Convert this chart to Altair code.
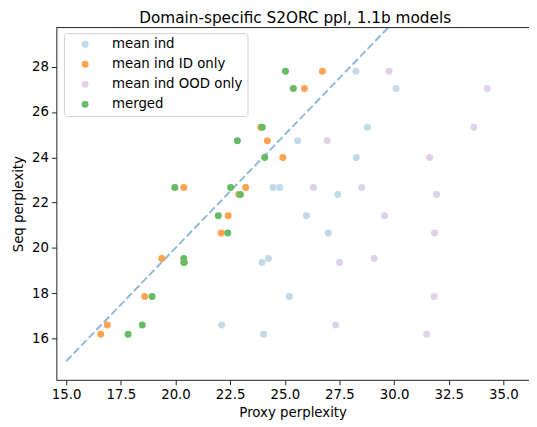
import altair as alt
import pandas as pd

series_names = ["mean ind", "mean ind ID only", "mean ind OOD only", "merged"]
series_colors = ["#c2d9ea", "#ffa352", "#dfd1eb", "#66bb66"]

seq_ppl = [27.80, 27.04, 25.33, 24.73, 23.99, 22.67, 22.67, 22.36, 21.42, 20.66, 19.54, 19.36, 17.86, 16.60, 16.19]
mean_ind = [28.25, 30.09, 28.78, 25.59, 28.27, 24.46, 24.77, 27.42, 25.99, 26.99, 24.25, 23.96, 25.21, 22.11, 24.03]
id_only = [26.72, 25.90, 23.90, 24.20, 24.91, 20.38, 23.21, 22.89, 22.41, 22.09, 19.37, 20.41, 18.59, 16.88, 16.58]
ood_only = [29.77, 34.26, 33.65, 26.94, 31.62, 26.31, 28.52, 31.94, 29.56, 31.85, 29.09, 27.50, 31.83, 27.33, 31.49]
merged = [25.03, 25.39, 23.97, 22.83, 24.08, 19.97, 22.52, 22.97, 21.96, 22.39, 20.38, 20.38, 18.93, 18.48, 17.83]

diag = [15.0, 35.0]
x_ticks = [15.0, 17.5, 20.0, 22.5, 25.0, 27.5, 30.0, 32.5, 35.0]
y_ticks = [16, 18, 20, 22, 24, 26, 28]

rows = []
for name, xs in zip(series_names, [mean_ind, id_only, ood_only, merged]):
    for x, y in zip(xs, seq_ppl):
        rows.append({"series": name, "proxy": x, "seq": y})
df = pd.DataFrame(rows)
line_df = pd.DataFrame({"proxy": diag, "seq": diag})

W, H = 479, 357
xscale = alt.Scale(domain=[14.55, 36.17], nice=False, zero=False)
yscale = alt.Scale(domain=[14.18, 29.73], nice=False, zero=False)

xaxis = alt.Axis(values=x_ticks, format=".1f", title="Proxy perplexity", grid=False,
                 tickSize=5, labelPadding=3, titlePadding=5)
yaxis = alt.Axis(values=y_ticks, format="d", title="Seq perplexity", grid=False,
                 tickSize=5, labelPadding=3, titlePadding=6)

line = alt.Chart(line_df).mark_line(
    strokeDash=[7.7, 3.3], strokeWidth=2, color="#8fbbd9", clip=True
).encode(
    x=alt.X("proxy:Q", scale=xscale, axis=xaxis),
    y=alt.Y("seq:Q", scale=yscale, axis=yaxis),
)

legend = alt.Legend(
    title=None, orient="none", legendX=7.7, legendY=5.7, padding=4.5,
    symbolOffset=10.2, labelOffset=20.5, rowPadding=5.3, symbolSize=50,
    symbolType="circle", symbolStrokeWidth=0, symbolOpacity=1, labelFontSize=13.5,
    strokeColor="#d0d0d0", fillColor="white", cornerRadius=3,
)

points = alt.Chart(df).mark_circle(size=50, strokeWidth=0, opacity=1).encode(
    x=alt.X("proxy:Q", scale=xscale, axis=xaxis),
    y=alt.Y("seq:Q", scale=yscale, axis=yaxis),
    color=alt.Color("series:N", scale=alt.Scale(domain=series_names, range=series_colors),
                    sort=series_names, legend=legend),
)

top_spine = alt.Chart(pd.DataFrame({"a": [0]})).mark_rule(color="#222", strokeWidth=1).encode(
    x=alt.value(0), x2=alt.value(W), y=alt.value(0)
)

chart = alt.layer(line, points, top_spine).properties(
    width=W, height=H,
    title=alt.Title("Domain-specific S2ORC ppl, 1.1b models", fontSize=15.5, fontWeight="normal",
                    anchor="middle", offset=1, dx=2.5, color="#000"),
    autosize=alt.AutoSizeParams(type="none"),
    padding={"left": 49, "top": 17, "right": 0, "bottom": 45},
).configure(font="DejaVu Sans").configure_view(stroke=None).configure_axis(
    domainColor="#222", tickColor="#222", labelColor="#000", titleColor="#000",
    labelFontSize=13.5, titleFontSize=13.5, titleFontWeight="normal",
).configure_title(font="DejaVu Sans")

chart.save("out.html", embed_options={"renderer": "svg", "actions": False})
